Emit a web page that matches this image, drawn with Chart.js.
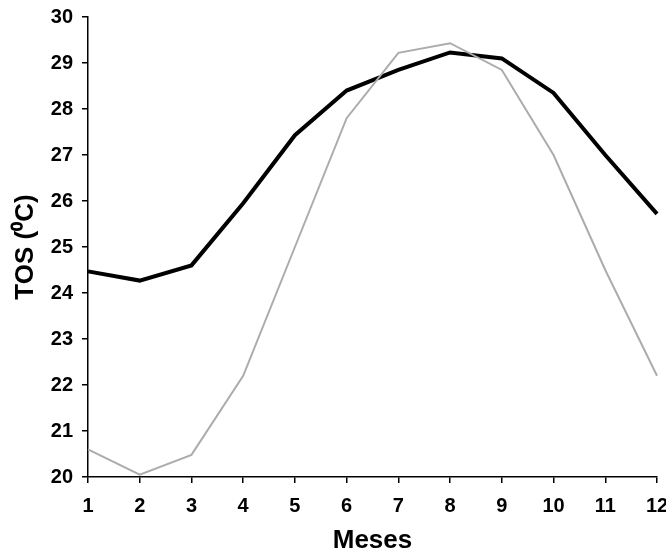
<!DOCTYPE html>
<html>
<head>
<meta charset="utf-8">
<script src="https://cdn.jsdelivr.net/npm/chart.js@4"></script>
<style>
  html, body { margin: 0; padding: 0; background: #fff; }
  #wrap { width: 666px; height: 556px; }
</style>
</head>
<body>
<div id="wrap"><canvas id="grafico" width="666" height="556"></canvas></div>
<script>
const meses = ["1", "2", "3", "4", "5", "6", "7", "8", "9", "10", "11", "12"];
const serieEscura = [24.47, 24.27, 24.6, 25.95, 27.43, 28.4, 28.85, 29.23, 29.1, 28.35, 27.0, 25.72];
const serieClara = [20.6, 20.05, 20.48, 22.2, 25.0, 27.8, 29.22, 29.43, 28.85, 27.0, 24.5, 22.2];
const ticksY = [20, 21, 22, 23, 24, 25, 26, 27, 28, 29, 30];

const fonteTicks = { family: "Liberation Sans, Arial, sans-serif", size: 20, weight: "bold" };
const fonteTitulo = { family: "Liberation Sans, Arial, sans-serif", size: 26, weight: "bold" };

const ctx = document.getElementById("grafico").getContext("2d");
new Chart(ctx, {
    type: "line",
    data: {
        labels: meses,
        datasets: [
            {
                data: serieClara,
                borderColor: "#acacac",
                borderWidth: 2,
                pointRadius: 0,
                tension: 0,
                fill: false
            },
            {
                data: serieEscura,
                borderColor: "#000",
                borderWidth: 4,
                pointRadius: 0,
                tension: 0,
                fill: false
            }
        ]
    },
    options: {
        responsive: false,
        animation: false,
        layout: { padding: { top: 17, right: 9, bottom: 0, left: 0 } },
        plugins: {
            legend: { display: false },
            tooltip: { enabled: false }
        },
        scales: {
            x: {
                offset: false,
                border: { display: true, color: "#000", width: 1.5 },
                grid: { drawOnChartArea: false, drawTicks: true, tickLength: 6, color: "#000", lineWidth: 1.5 },
                ticks: { color: "#000", font: fonteTicks, padding: 11, maxRotation: 0 },
                title: { display: true, text: "Meses", color: "#000", font: fonteTitulo, padding: { top: 0, bottom: 0 } },
                afterFit: (s) => { s.height = 79; s.paddingRight = 0; s.paddingLeft = 0; }
            },
            y: {
                min: 20,
                max: 30,
                afterBuildTicks: (s) => { s.ticks = ticksY.map(v => ({ value: v })); },
                border: { display: true, color: "#000", width: 1.5 },
                grid: { drawOnChartArea: false, drawTicks: true, tickLength: 6, color: "#000", lineWidth: 1.5 },
                ticks: { color: "#000", font: fonteTicks, padding: 9 },
                title: { display: true, text: "TOS (\u2070C)", color: "#000", font: fonteTitulo, padding: { top: 10, bottom: 0 } },
                afterFit: (s) => { s.width = 88; s.paddingTop = 0; s.paddingBottom = 0; }
            }
        }
    }
});
</script>
</body>
</html>
